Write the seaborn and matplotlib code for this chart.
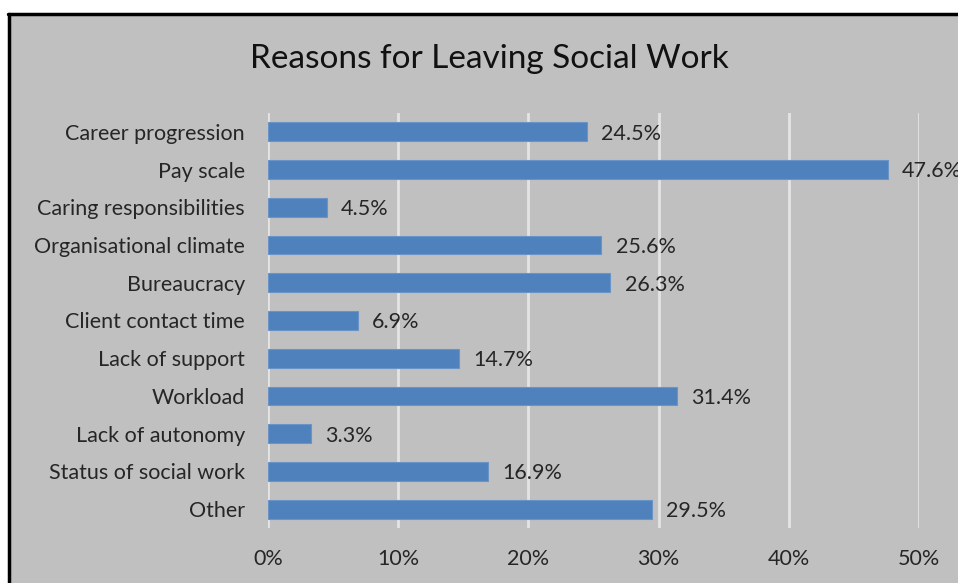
import matplotlib
matplotlib.use("Agg")
import matplotlib.pyplot as plt
from matplotlib.patches import Rectangle
from matplotlib.lines import Line2D
import seaborn as sns
import pandas as pd

reasons = [
    "Career progression",
    "Pay scale",
    "Caring responsibilities",
    "Organisational climate",
    "Bureaucracy",
    "Client contact time",
    "Lack of support",
    "Workload",
    "Lack of autonomy",
    "Status of social work",
    "Other",
]
percent = [24.5, 47.6, 4.5, 25.6, 26.3, 6.9, 14.7, 31.4, 3.3, 16.9, 29.5]
x_ticks = [0, 10, 20, 30, 40, 50]
title = "Reasons for Leaving Social Work"

df = pd.DataFrame({"reason": reasons, "percent": percent})

sns.set_style("white")
plt.rcParams["font.family"] = ["Lato", "DejaVu Sans"]

W, H = 958, 583
fig = plt.figure(figsize=(W / 100, H / 100), dpi=100, facecolor="white")

bg = "#c0c0c0"
# chart area panel with black frame on the top and left
fig.patches.append(Rectangle((8 / W, 0), 1, 1 - 14 / H, transform=fig.transFigure,
                             facecolor=bg, edgecolor="none", zorder=-10))
fig.lines.append(Line2D([8.5 / W, 8.5 / W], [0, 1 - 13.5 / H], transform=fig.transFigure,
                        color="black", lw=2.5, zorder=1))
fig.lines.append(Line2D([7.5 / W, 1], [1 - 14 / H, 1 - 14 / H], transform=fig.transFigure,
                        color="black", lw=2.5, zorder=1))

ax = fig.add_axes([268 / W, 55 / H, (919 - 268) / W, (528 - 113) / H])
ax.set_facecolor(bg)

sns.barplot(data=df, x="percent", y="reason", order=reasons, orient="h",
            color="#4f81bd", saturation=1, width=0.5, edgecolor="#6a94c8",
            linewidth=0.8, ax=ax, zorder=3)

ax.set_xlim(0, 50)
ax.set_ylim(len(reasons) - 0.5, -0.5)
ax.set_xticks(x_ticks)
ax.set_xticklabels([f"{t}%" for t in x_ticks])
ax.grid(axis="x", color="#e4e4e4", lw=2, zorder=0)
ax.set_axisbelow(True)
for s in ax.spines.values():
    s.set_visible(False)
ax.set_xlabel("")
ax.set_ylabel("")
ax.tick_params(axis="both", length=0, labelsize=15.5, labelcolor="#262626")
ax.tick_params(axis="y", pad=16.5)
ax.tick_params(axis="x", pad=15)

for i, v in enumerate(percent):
    ax.text(v + 1.1, i + 0.05, f"{v}%", va="center", ha="left", fontsize=15.5,
            color="#262626", clip_on=False)

fig.text(489 / W, 1 - 59 / H, title, ha="center", va="center", fontsize=24,
         color="#111111")

fig.savefig("out.png", dpi=100, facecolor=fig.get_facecolor())
